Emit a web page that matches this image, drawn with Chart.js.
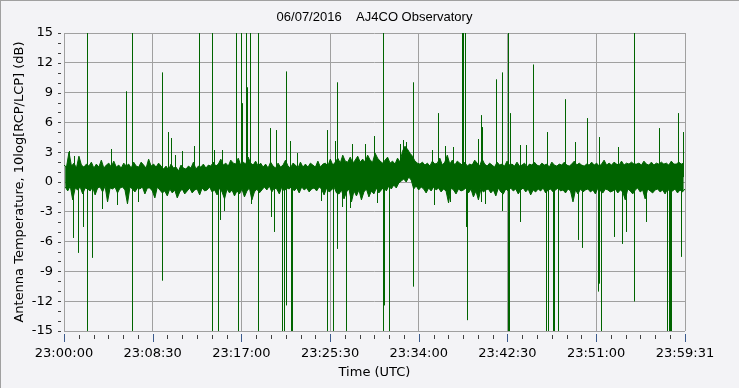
<!DOCTYPE html>
<html><head><meta charset="utf-8">
<script src="https://cdn.jsdelivr.net/npm/chart.js@4/dist/chart.umd.min.js"></script>
<style>html,body{margin:0;padding:0;background:#f3f3f6;}#wrap{width:740px;height:389px;position:relative}canvas{display:block}</style>
</head><body><div id="wrap"><canvas id="c" width="740" height="389"></canvas></div>
<script>
const chartTitle = '06/07/2016    AJ4CO Observatory';
const xTitle = 'Time (UTC)';
const yTitle = 'Antenna Temperature, 10log[RCP/LCP] (dB)';
const totalSeconds = 3571;
const xTickSeconds = [0, 510, 1020, 1530, 2040, 2550, 3060, 3571];
const xTickLabels = ['23:00:00','23:08:30','23:17:00','23:25:30','23:34:00','23:42:30','23:51:00','23:59:31'];
const xMinorStep = 85;
const yTickValues = [-15,-12,-9,-6,-3,0,3,6,9,12,15];
const yMinorStep = 1;
const baseLevel = 0.5;   // centre of the noise band (dB)

// noise band envelope (dB), evenly spaced over the hour
const bandHigh = [
1.7,1.5,3.0,1.6,1.9,1.4,2.6,1.7,1.5,1.8,
1.6,2.0,1.4,1.8,1.5,2.2,1.4,1.7,1.9,1.5,
2.1,1.5,1.7,1.4,1.9,1.6,1.8,1.4,2.0,1.6,
1.5,2.0,1.7,1.4,2.3,1.6,1.8,1.5,1.9,1.6,
1.3,1.6,1.2,1.8,1.4,1.5,1.1,1.7,1.4,1.3,
1.6,1.4,2.0,1.3,1.6,1.5,1.8,1.4,1.7,1.6,
2.0,1.6,1.8,2.3,1.7,1.9,1.6,2.2,1.9,1.8,
2.4,1.7,2.0,1.8,2.5,1.9,1.7,2.1,1.6,1.9,
1.5,1.8,1.4,2.0,1.6,1.4,1.9,1.5,1.7,2.2,
1.6,1.4,1.9,1.7,1.4,2.0,1.5,1.8,1.5,1.9,
1.7,1.5,2.1,1.5,1.8,1.9,1.6,2.3,1.7,2.0,
2.4,1.9,2.7,2.1,2.0,2.5,1.9,2.2,2.6,2.0,
2.3,2.0,2.7,2.2,2.0,2.9,2.4,2.1,1.9,2.2,
2.5,1.9,2.1,1.8,2.4,2.0,3.1,3.6,3.3,2.9,
2.6,2.1,1.9,1.8,2.0,1.7,1.9,1.6,2.1,1.8,
1.9,2.4,1.7,2.0,2.7,1.8,2.2,1.7,2.1,1.9,
1.7,2.0,1.6,1.8,1.7,2.2,1.9,1.6,2.3,1.8,
1.6,1.9,1.7,1.5,2.0,1.7,1.8,1.6,2.1,1.7,
1.8,1.6,2.0,1.6,1.7,1.9,1.5,1.8,1.7,2.0,
1.7,1.6,1.9,1.7,1.8,1.5,2.0,1.7,1.6,1.8,
1.7,2.0,1.7,1.6,1.8,2.1,1.7,1.9,1.7,1.6,
1.8,1.7,2.0,1.7,1.9,1.6,1.8,2.2,1.7,1.9,
1.7,2.0,1.8,1.7,2.1,1.7,1.9,1.8,2.0,1.8,
1.8,1.9,1.7,2.1,1.8,1.7,2.0,1.7,1.9,1.8,
2.0,1.8,1.9,1.7,2.1,1.8,1.8,2.0,1.8,1.9
];
const bandLow = [
-0.5,-0.9,-0.4,-1.8,-0.6,-0.8,-0.5,-1.2,-0.6,-0.7,
-0.9,-0.5,-1.3,-0.6,-0.5,-1.0,-0.4,-2.0,-0.6,-0.7,
-0.5,-1.1,-0.6,-0.5,-0.8,-2.2,-0.5,-0.7,-1.0,-0.6,
-0.7,-0.5,-1.2,-0.6,-0.6,-0.9,-1.6,-0.5,-0.8,-1.1,
-0.9,-1.4,-0.7,-1.1,-0.8,-1.6,-1.0,-0.7,-1.2,-0.9,
-0.6,-1.1,-0.8,-0.7,-1.3,-0.6,-0.9,-0.8,-0.5,-1.0,
-0.8,-1.3,-0.6,-1.0,-1.7,-0.7,-1.1,-0.8,-1.4,-0.9,
-1.2,-0.7,-1.5,-0.9,-0.6,-1.8,-1.0,-0.7,-1.1,-0.8,
-0.5,-0.8,-0.4,-1.0,-0.6,-0.7,-1.2,-0.5,-0.9,-0.6,
-0.7,-0.4,-0.9,-0.6,-1.1,-0.5,-0.8,-0.6,-1.0,-0.7,
-0.6,-0.9,-0.5,-0.7,-1.3,-0.6,-1.0,-0.8,-0.5,-1.1,
-1.2,-0.8,-1.7,-1.0,-0.7,-2.0,-0.9,-1.4,-0.8,-1.8,
-1.0,-0.7,-1.5,-0.9,-1.2,-0.6,-1.1,-0.8,-0.5,-0.9,
-0.4,-0.7,-0.3,-0.6,-0.1,0.1,0.3,0.0,0.5,0.2,
-0.7,-0.4,-0.8,-0.5,-0.7,-1.1,-0.6,-0.9,-0.5,-0.8,
-0.6,-1.0,-0.7,-0.9,-2.1,-0.6,-0.8,-1.2,-0.7,-0.9,
-0.8,-0.6,-1.1,-0.7,-1.5,-0.9,-1.8,-0.7,-1.0,-0.8,
-0.7,-1.1,-0.8,-1.4,-0.6,-1.0,-1.2,-0.7,-0.9,-0.6,
-0.9,-0.7,-1.2,-0.8,-0.6,-1.0,-0.7,-1.3,-0.8,-1.0,
-0.7,-0.9,-0.6,-1.1,-0.8,-0.7,-1.0,-0.8,-0.6,-0.9,
-0.8,-1.1,-0.7,-0.9,-2.0,-0.8,-1.2,-0.7,-1.0,-0.8,
-0.7,-1.0,-0.8,-1.2,-0.6,-0.9,-1.1,-0.7,-0.8,-1.0,
-0.9,-0.7,-1.1,-0.8,-1.0,-1.8,-0.7,-0.9,-1.2,-0.8,
-0.6,-1.0,-0.8,-1.7,-0.7,-0.9,-1.1,-0.8,-0.7,-1.0,
-0.8,-1.2,-0.7,-1.0,-0.9,-0.7,-1.1,-0.8,-1.0,-0.7
];

// isolated spikes: seconds after 23:00:00, peak and dip (dB); ±16 = off scale
const spikeTimes = [30,56,63,82,111,134,165,223,276,305,357,393,426,565,600,617,640,683,749,778,853,867,890,901,910,924,992,1005,1021,1029,1047,1056,1070,1079,1118,1186,1196,1208,1221,1259,1268,1282,1304,1307,1314,1342,1482,1516,1547,1564,1572,1604,1623,1645,1660,1733,1787,1802,1836,1842,1873,1936,1955,1972,2009,2120,2132,2156,2191,2220,2237,2289,2295,2300,2306,2315,2321,2385,2398,2409,2421,2486,2522,2524,2556,2561,2569,2624,2657,2697,2775,2783,2786,2812,2823,2843,2881,2944,2961,2979,3013,3071,3082,3092,3163,3186,3209,3232,3278,3352,3427,3473,3482,3490,3496,3531,3549,3560];
const spikePeaks = [3.1,null,2.6,null,null,16,null,null,3.3,null,9.1,16,null,11.0,5.0,4.4,2.7,3.1,3.6,16,16,3.2,null,null,3.2,null,16,null,16,7.9,16,9.5,16,null,16,5.4,null,null,5.2,null,null,11.1,4.1,null,null,2.9,null,5.2,null,4.1,10.0,null,null,null,3.8,3.8,4.6,null,16,null,null,3.8,4.2,4.0,10.0,3.2,null,6.9,3.6,null,3.5,16,16,16,16,null,null,4.3,6.7,5.5,null,10.3,null,11.0,16,null,6.9,3.7,3.7,11.8,null,5.0,null,null,null,null,8.3,4.0,null,null,6.4,null,4.5,null,null,3.5,null,null,16,null,5.4,null,null,null,null,6.9,null,5.0];
const spikeDips = [null,-5.6,null,-7.1,-4.5,-16,-7.6,-2.7,null,-2.3,null,-16,-2.0,-9.9,null,null,null,null,null,null,-16,null,-16,-3.8,null,-2.9,null,-16,null,null,null,null,null,-2.2,-16,null,-3.5,-5.0,null,-16,-16,-12.4,null,-16,-16,null,-1.9,-16,-16,null,-6.7,-2.5,-16,-2.6,null,null,null,-2.1,-16,-12.4,-16,null,null,null,-10.5,null,-2.3,null,null,-2.0,null,null,null,null,null,-4.5,-13.9,null,-2.0,null,-2.2,null,-2.9,null,-16,-16,null,-4.0,null,null,-16,null,-16,-16,-16,-16,null,null,-5.8,-6.6,null,-11.0,-10.2,-16,-5.5,null,-6.2,-5.0,-12.0,-4.0,null,-16,-16,-16,-16,null,-7.5,null];

// noise band: upper and lower envelopes, filled between
const nb = bandHigh.length;
const bandStep = totalSeconds / (2 * nb - 1);
const highPoints = bandHigh.map((v, i) => ({x: 2 * i * bandStep, y: v}));
const lowPoints = bandLow.map((v, i) => ({x: (2 * i + 1) * bandStep, y: v}));
// spikes: vertical strokes separated by gaps
const spikePoints = [];
spikeTimes.forEach((t, j) => {
  spikePoints.push({x: t, y: spikePeaks[j] !== null ? spikePeaks[j] : baseLevel});
  spikePoints.push({x: t, y: spikeDips[j] !== null ? spikeDips[j] : baseLevel});
  spikePoints.push({x: t, y: null});
});

const BG = '#f3f3f6';
const GREEN = '#006400';
const bgPlugin = {
  id: 'bg',
  beforeDraw(chart) {
    const c = chart.ctx;
    c.save();
    c.fillStyle = BG;
    c.fillRect(0, 0, chart.width, chart.height);
    c.fillStyle = '#a0a0a0';
    c.fillRect(0, 0, chart.width, 1);
    c.fillRect(0, 0, 1, chart.height);
    c.fillStyle = '#ffffff';
    c.fillRect(0, chart.height - 1, chart.width, 1);
    c.fillRect(chart.width - 1, 0, 1, chart.height);
    c.restore();
  }
};
const layoutPlugin = {
  id: 'titleCentre',
  afterLayout(chart) {
    chart.titleBlock.left = chart.chartArea.left;
    chart.titleBlock.right = chart.chartArea.right;
    chart.titleBlock.width = chart.chartArea.right - chart.chartArea.left;
  },
  afterDatasetsUpdate(chart) {
    // snap vertical spike strokes onto whole pixels so they stay crisp
    const meta = chart.getDatasetMeta(2);
    meta.data.forEach(p => { p.x = Math.floor(p.x) + 0.5; });
    if (meta.dataset) meta.dataset._path = undefined;
  }
};
const tickPlugin = {
  id: 'tickmarks',
  afterDraw(chart) {
    const c = chart.ctx, xs = chart.scales.x, ys = chart.scales.y;
    const area = chart.chartArea;
    c.save();
    c.fillStyle = '#404040';
    for (let v = ys.min; v <= ys.max; v += yMinorStep) {
      const y = Math.round(ys.getPixelForValue(v));
      c.fillRect(area.left - 6, y, 3, 1);
    }
    for (let t = 0; t < totalSeconds; t += xMinorStep) {
      if (xTickSeconds.includes(t)) continue;
      const x = Math.round(xs.getPixelForValue(t));
      c.fillRect(x, area.bottom + 4, 1, 4);
    }
    c.fillStyle = '#3b5a8c';
    xTickSeconds.forEach(t => {
      const x = Math.round(xs.getPixelForValue(t));
      c.fillRect(x, area.bottom + 3, 1, 8);
    });
    c.restore();
  }
};

const tickFont = {family: 'DejaVu Sans', size: 13};
new Chart(document.getElementById('c'), {
  type: 'line',
  data: {datasets: [
    {data: highPoints, borderColor: GREEN, backgroundColor: GREEN, borderWidth: 1,
     pointRadius: 0, tension: 0, fill: '+1'},
    {data: lowPoints, borderColor: GREEN, borderWidth: 1,
     pointRadius: 0, tension: 0, fill: false},
    {data: spikePoints, borderColor: GREEN, borderWidth: 1,
     pointRadius: 0, tension: 0, fill: false, spanGaps: false}
  ]},
  options: {
    responsive: false, animation: false, parsing: false, devicePixelRatio: 1,
    layout: {padding: {left: 0, right: 55, top: 0, bottom: 0}},
    plugins: {
      legend: {display: false}, tooltip: {enabled: false},
      title: {display: true, text: chartTitle, color: '#000',
        font: {family: 'Liberation Sans', size: 13, weight: 'normal'},
        padding: {top: 10, bottom: 7.4}}
    },
    scales: {
      x: {
        type: 'linear', min: 0, max: totalSeconds,
        afterBuildTicks: s => { s.ticks = xTickSeconds.map(v => ({value: v})); },
        afterFit: s => { s.height = 58; },
        ticks: {autoSkip: false, maxRotation: 0, minRotation: 0, padding: 15, color: '#000', font: tickFont,
          callback: (v, i) => xTickLabels[i]},
        grid: {color: '#a0a0a0', lineWidth: 1, drawTicks: false},
        border: {display: false},
        title: {display: true, text: xTitle, color: '#000', font: tickFont, padding: {top: 9, bottom: 9}}
      },
      y: {
        min: -15, max: 15,
        afterBuildTicks: s => { s.ticks = yTickValues.map(v => ({value: v})); },
        afterFit: s => { s.width = 64; },
        ticks: {autoSkip: false, padding: 11, color: '#000', font: tickFont},
        grid: {color: '#a0a0a0', lineWidth: 1, drawTicks: false},
        border: {display: false},
        title: {display: true, text: yTitle, color: '#000', font: tickFont, padding: {top: 12, bottom: 0}}
      }
    }
  },
  plugins: [bgPlugin, layoutPlugin, tickPlugin]
});
</script>
</body></html>
